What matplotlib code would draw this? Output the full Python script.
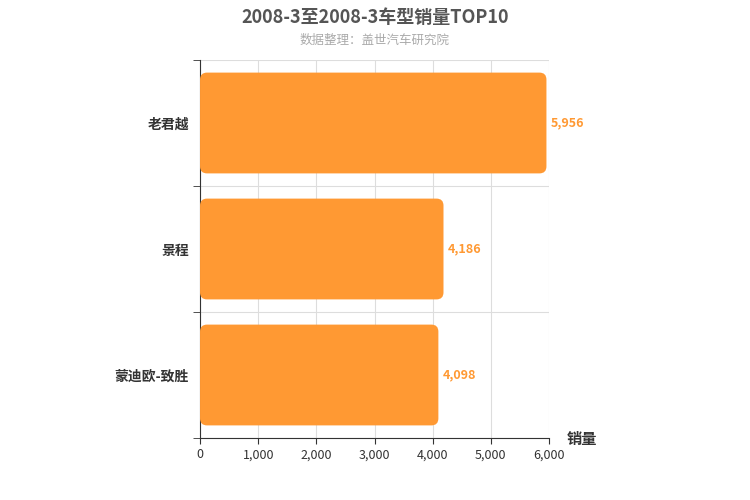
import matplotlib
matplotlib.use("Agg")
import matplotlib.pyplot as plt
from matplotlib.patches import FancyBboxPatch

plt.rcParams['font.family'] = ['Noto Sans CJK SC', 'DejaVu Sans']

categories = ["老君越", "景程", "蒙迪欧-致胜"]
values = [5956, 4186, 4098]
xticks = [0, 1000, 2000, 3000, 4000, 5000, 6000]
color = "#FF9933"

fig = plt.figure(figsize=(7.5, 5), dpi=100)
ax = fig.add_axes([0.2667, 0.124, 0.4653, 0.756])
ax.set_xlim(0, 6000)
ax.set_ylim(-0.5, 2.5)
ax.invert_yaxis()

xpp = 6000 / 349
ypp = 3 / 378
r = 7 * xpp
for i, v in enumerate(values):
    p = FancyBboxPatch((0, i - 0.4), v, 0.8,
                       boxstyle=f"round,pad=0,rounding_size={r}",
                       mutation_aspect=ypp / xpp, fc=color, ec="none", zorder=3)
    ax.add_patch(p)
    ax.text(v + 80, i, f"{v:,}", va="center", ha="left", color=color,
            fontsize=9, fontweight="bold")

ax.set_xticks(xticks)
ax.set_xticklabels([f"{t:,}" for t in xticks], fontsize=9, color="#333333")
ax.set_yticks(range(len(categories)))
ax.set_yticklabels(categories, fontsize=10, fontweight="bold", color="#333333")
ax.tick_params(axis='y', length=0, pad=8)
ax.set_yticks([-0.5, 0.5, 1.5, 2.5], minor=True)
ax.tick_params(axis='y', which='minor', length=5, color="#333333")
ax.tick_params(axis='x', length=4, color="#333333")
ax.grid(axis='x', color="#dddddd", lw=0.8, zorder=0)
ax.grid(axis='y', which='minor', color="#dddddd", lw=0.8, zorder=0)
for s in ['top', 'right']:
    ax.spines[s].set_visible(False)
for s in ['left', 'bottom']:
    ax.spines[s].set_color("#333333")

fig.text(0.5, 0.965, "2008-3至2008-3车型销量TOP10", ha="center", va="center",
         fontsize=13, fontweight="bold", color="#555555")
fig.text(0.5, 0.92, "数据整理：盖世汽车研究院", ha="center", va="center",
         fontsize=9, color="#aaaaaa")
fig.text(0.755, 0.122, "销量", ha="left", va="center", fontsize=11,
         fontweight="bold", color="#333333")

fig.savefig("out.png", dpi=100)
